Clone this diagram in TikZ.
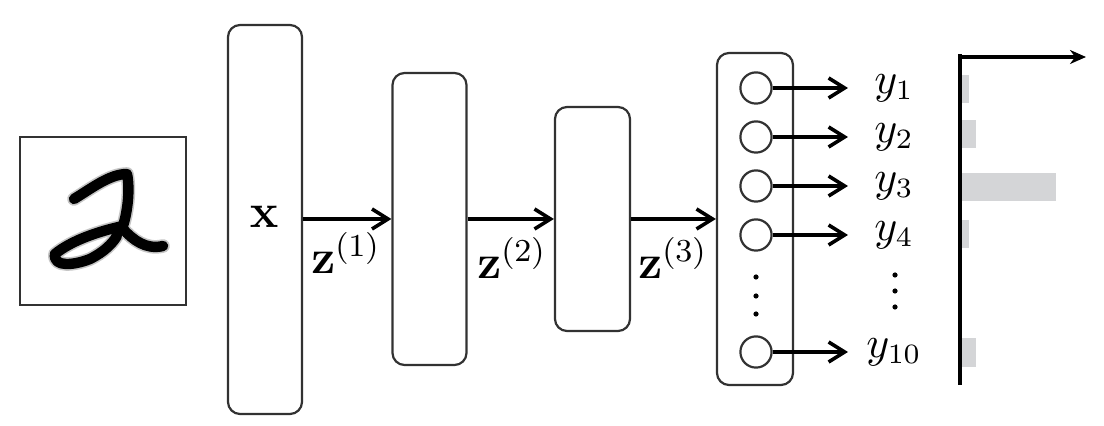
\documentclass[tikz,border=0pt]{standalone}
\usepackage{amsmath}
\usetikzlibrary{arrows.meta}
\definecolor{bargray}{RGB}{212,213,215}
\definecolor{edge}{RGB}{50,50,50}
\begin{document}
\begin{tikzpicture}[x=0.25pt,y=-0.25pt,
  layer/.style={draw=edge,line width=0.55pt,rounded corners=3pt,minimum width=18.5pt,inner sep=0pt},
  unit/.style={circle,draw=edge,line width=0.55pt,minimum size=7.8pt,inner sep=0pt},
  conn/.style={-{Straight Barb[length=4pt,width=5pt,line width=0.9pt]},line width=0.9pt,black},
  lbl/.style={inner sep=0pt,font=\fontsize{10.5}{12}\selectfont},
  zlbl/.style={inner sep=0pt,font=\fontsize{11.5}{13}\selectfont},
  dot/.style={circle,fill=black,inner sep=0pt,minimum size=1.3pt},
  bar/.style={fill=bargray,draw=none}]
\useasboundingbox (0,0) rectangle (1104,426);
% input image
\node[draw=edge,line width=0.6pt,minimum width=41.5pt,minimum height=42pt,inner sep=0pt] (img) at (103,221) {};
\begin{scope}[line cap=round,line join=round]
  \foreach \w/\c in {3.4pt/gray!45,2.6pt/black}{
    \draw[line width=\w,\c] (74,199) .. controls (92,188) and (110,174) .. (127,174)
      .. controls (130,188) and (128,210) .. (123,226)
      .. controls (100,231) and (72,240) .. (55,254)
      .. controls (53,268) and (75,265) .. (90,259)
      .. controls (104,252) and (112,244) .. (117,236);
    \draw[line width=\w,\c] (123,229) .. controls (133,240) and (146,250) .. (163,246);
  }
\end{scope}
% layers
\node[layer,minimum height=97.25pt] (bx) at (265,219.5) {};
\node[zlbl] (xl) at (264,217) {$\mathbf{x}$};
\node[layer,minimum height=73pt] (b2) at (429.5,219) {};
\node[layer,minimum width=18.75pt,minimum height=56pt] (b3) at (592.5,219) {};
\node[layer,minimum width=19pt,minimum height=83pt] (b4) at (755,219) {};
\draw[conn] (bx.east |- 0,219) -- (b2.west |- 0,219);
\draw[conn] (b2.east |- 0,219) -- (b3.west |- 0,219);
\draw[conn] (b3.east |- 0,219) -- (b4.west |- 0,219);
\node[zlbl] (z1) at (346,253) {$\mathbf{z}^{(1)}$};
\node[zlbl] (z2) at (512,258) {$\mathbf{z}^{(2)}$};
\node[zlbl] (z3) at (673,258) {$\mathbf{z}^{(3)}$};
% output units
\foreach \i/\yy in {1/88,2/137,3/186,4/235,10/352}{
  \node[unit] (c\i) at (756,\yy) {};
  \coordinate (e\i) at (848,\yy);
  \node[lbl] (y\i) at (894,\yy) {$y_{\i}$};
  \draw[conn] (c\i.east) -- (e\i);
}
\foreach \yy in {277,296,314}{\node[dot] at (756,\yy) {};}
\foreach \yy in {275,291,307}{\node[dot] at (895,\yy) {};}
% histogram
\coordinate (ob) at (960,385);
\coordinate (ot) at (960,54);
\coordinate (oh) at (960,57);
\coordinate (ax) at (1086,57);
\fill[bar] (962,75) rectangle (969,103);
\fill[bar] (962,120) rectangle (976,148);
\fill[bar] (962,173) rectangle (1056,201);
\fill[bar] (962,220) rectangle (969,248);
\fill[bar] (962,338) rectangle (976,367);
\draw[line width=0.8pt,black] (ob) -- (ot);
\draw[line width=0.8pt,black,-{Stealth[length=4pt,width=3.5pt]}] (oh) -- (ax);
\end{tikzpicture}
\end{document}
